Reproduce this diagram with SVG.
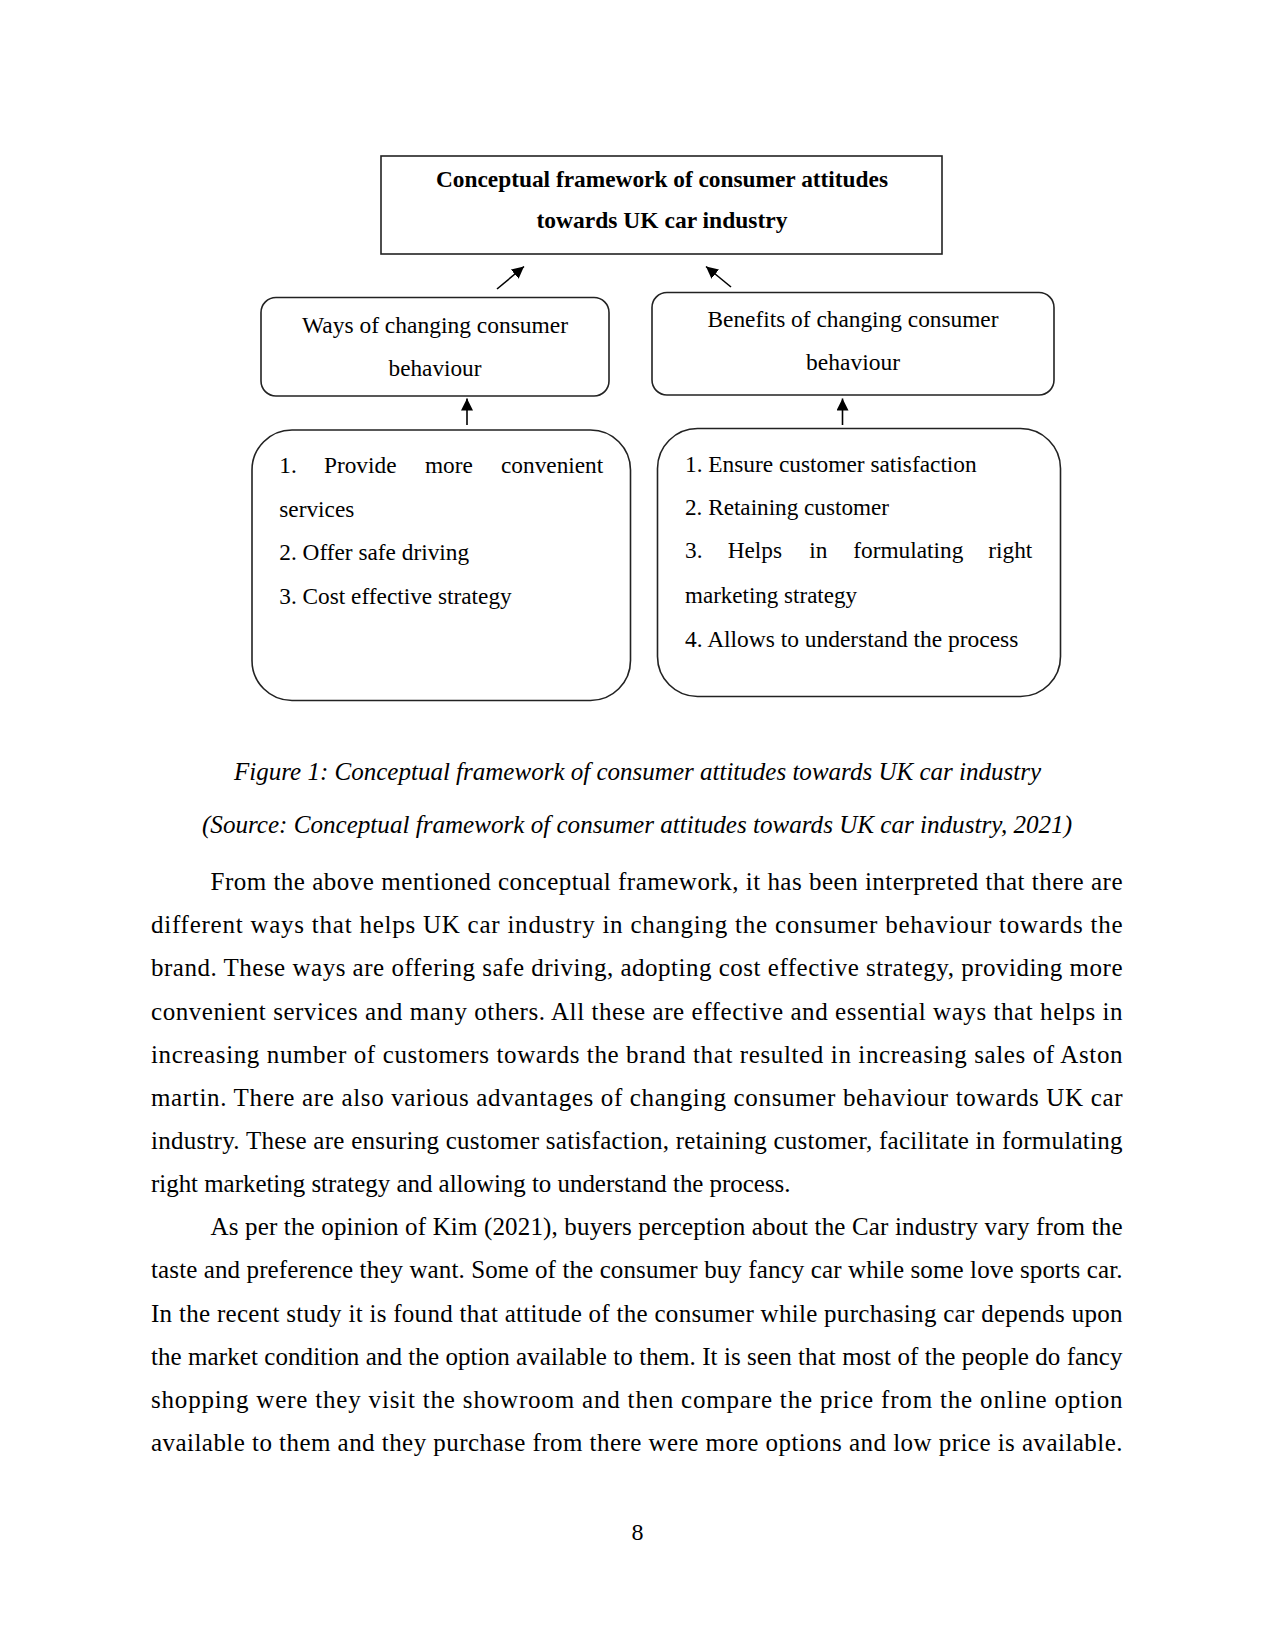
<svg xmlns="http://www.w3.org/2000/svg" width="1275" height="1651" viewBox="0 0 1275 1651">
<style>
.box{fill:#fff;stroke:#222;stroke-width:1.6}
.t{font-family:"Liberation Serif","Times New Roman",serif;fill:#000}
.title{font-size:23.5px;font-weight:bold;text-anchor:middle}
.mid{font-size:23.3px;text-anchor:middle}
.item{font-size:23.3px}
.cap{font-size:25px;font-style:italic;text-anchor:middle}
.body{font-size:25px}
.conn{stroke:#000;stroke-width:1.6;fill:none;marker-end:url(#ah)}
</style>
<defs>
<marker id="ah" markerUnits="userSpaceOnUse" markerWidth="14" markerHeight="12" refX="12" refY="6" orient="auto">
<path d="M0,0 L12,6 L0,12 Z" fill="#000"/>
</marker>
</defs>
<rect width="1275" height="1651" fill="#fff"/>

<g id="node-title">
<rect class="box" x="381" y="156" width="561" height="98"/>
<text class="t title" x="662" y="187" textLength="452" lengthAdjust="spacingAndGlyphs">Conceptual framework of consumer attitudes</text>
<text class="t title" x="662" y="228" textLength="251" lengthAdjust="spacingAndGlyphs">towards UK car industry</text>
</g>

<g id="node-ways">
<rect class="box" x="261" y="297.5" width="348" height="98.5" rx="15" ry="15"/>
<text class="t mid" x="435" y="333" textLength="266" lengthAdjust="spacingAndGlyphs">Ways of changing consumer</text>
<text class="t mid" x="435" y="376" textLength="93" lengthAdjust="spacingAndGlyphs">behaviour</text>
</g>

<g id="node-benefits">
<rect class="box" x="652" y="292.5" width="402" height="102.5" rx="15" ry="15"/>
<text class="t mid" x="853" y="327" textLength="291" lengthAdjust="spacingAndGlyphs">Benefits of changing consumer</text>
<text class="t mid" x="853" y="370" textLength="94" lengthAdjust="spacingAndGlyphs">behaviour</text>
</g>

<g id="node-ways-list">
<rect class="box" x="252" y="430" width="378.5" height="270.5" rx="40" ry="40"/>
<text class="t item" y="473.3"><tspan x="279.3">1.</tspan><tspan x="324">Provide</tspan><tspan x="425">more</tspan><tspan x="501">convenient</tspan></text>
<text class="t item" x="279.3" y="517.3">services</text>
<text class="t item" x="279.3" y="560.3">2. Offer safe driving</text>
<text class="t item" x="279.3" y="604.3" textLength="232.4" lengthAdjust="spacingAndGlyphs">3. Cost effective strategy</text>
</g>

<g id="node-benefits-list">
<rect class="box" x="657.5" y="428.5" width="403" height="268" rx="40" ry="40"/>
<text class="t item" x="685" y="471.7" textLength="291.7" lengthAdjust="spacingAndGlyphs">1. Ensure customer satisfaction</text>
<text class="t item" x="685" y="515" textLength="204" lengthAdjust="spacingAndGlyphs">2. Retaining customer</text>
<text class="t item" y="558.3"><tspan x="685">3.</tspan><tspan x="727.7">Helps</tspan><tspan x="809.3">in</tspan><tspan x="853.3">formulating</tspan><tspan x="988.3">right</tspan></text>
<text class="t item" x="685" y="603.3" textLength="172" lengthAdjust="spacingAndGlyphs">marketing strategy</text>
<text class="t item" x="685" y="646.7" textLength="333.3" lengthAdjust="spacingAndGlyphs">4. Allows to understand the process</text>
</g>

<g id="connectors">
<line class="conn" x1="497" y1="289" x2="524" y2="266.5"/>
<line class="conn" x1="731" y1="287" x2="706" y2="266.5"/>
<line class="conn" x1="467" y1="425" x2="467" y2="398.5"/>
<line class="conn" x1="842.5" y1="425" x2="842.5" y2="398.5"/>
</g>

<g id="caption">
<text class="t cap" x="637.5" y="780" textLength="807" lengthAdjust="spacingAndGlyphs">Figure 1: Conceptual framework of consumer attitudes towards UK car industry</text>
<text class="t cap" x="637" y="832.7" textLength="870" lengthAdjust="spacingAndGlyphs">(Source: Conceptual framework of consumer attitudes towards UK car industry, 2021)</text>
</g>

<g id="body-text" class="t body">
<text x="210.5" y="890" textLength="912" lengthAdjust="spacing">From the above mentioned conceptual framework, it has been interpreted that there are</text>
<text x="151" y="933.2" textLength="971.5" lengthAdjust="spacing">different ways that helps UK car industry in changing the consumer behaviour towards the</text>
<text x="151" y="976.3" textLength="971.5" lengthAdjust="spacing">brand. These ways are offering safe driving, adopting cost effective strategy, providing more</text>
<text x="151" y="1019.5" textLength="971.5" lengthAdjust="spacing">convenient services and many others. All these are effective and essential ways that helps in</text>
<text x="151" y="1062.6" textLength="971.5" lengthAdjust="spacing">increasing number of customers towards the brand that resulted in increasing sales of Aston</text>
<text x="151" y="1105.8" textLength="971.5" lengthAdjust="spacing">martin. There are also various advantages of changing consumer behaviour towards UK car</text>
<text x="151" y="1149" textLength="971.5" lengthAdjust="spacing">industry. These are ensuring customer satisfaction, retaining customer, facilitate in formulating</text>
<text x="151" y="1192.1" textLength="639.5" lengthAdjust="spacingAndGlyphs">right marketing strategy and allowing to understand the process.</text>
<text x="210.5" y="1235.3" textLength="912" lengthAdjust="spacing">As per the opinion of Kim (2021), buyers perception about the Car industry vary from the</text>
<text x="151" y="1278.4" textLength="971.5" lengthAdjust="spacing">taste and preference they want. Some of the consumer buy fancy car while some love sports car.</text>
<text x="151" y="1321.6" textLength="971.5" lengthAdjust="spacing">In the recent study it is found that attitude of the consumer while purchasing car depends upon</text>
<text x="151" y="1364.8" textLength="971.5" lengthAdjust="spacing">the market condition and the option available to them. It is seen that most of the people do fancy</text>
<text x="151" y="1407.9" textLength="971.5" lengthAdjust="spacing">shopping were they visit the showroom and then compare the price from the online option</text>
<text x="151" y="1451.1" textLength="971.5" lengthAdjust="spacing">available to them and they purchase from there were more options and low price is available.</text>
</g>

<g id="page-number">
<text class="t" x="637.5" y="1540" font-size="24" text-anchor="middle">8</text>
</g>
</svg>
